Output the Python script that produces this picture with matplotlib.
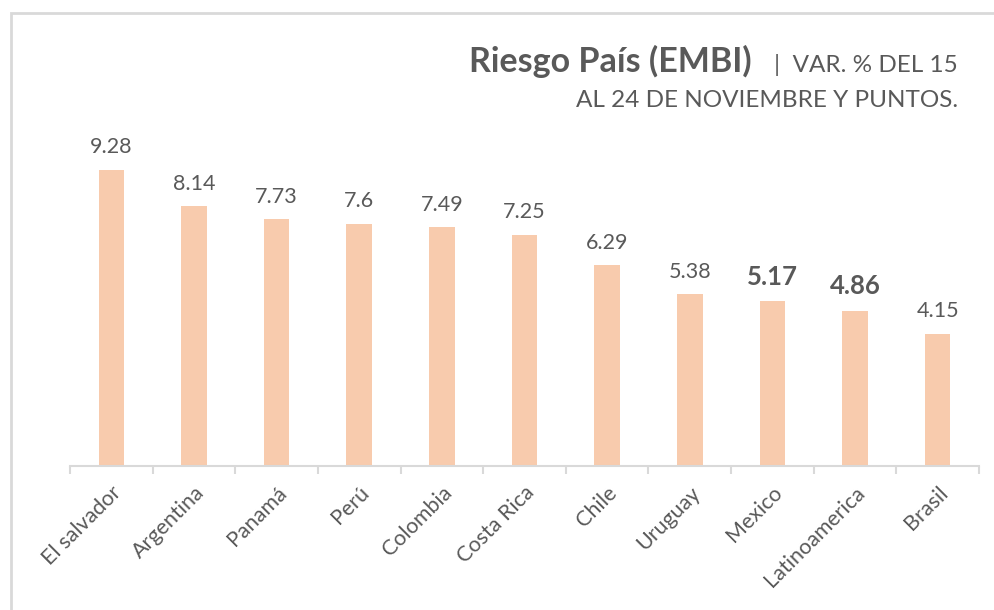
import matplotlib.pyplot as plt
from matplotlib.patches import Rectangle

# ------------------------------------------------------------
# Data
# ------------------------------------------------------------
countries = ["El salvador", "Argentina", "Panamá", "Perú", "Colombia",
             "Costa Rica", "Chile", "Uruguay", "Mexico", "Latinoamerica", "Brasil"]
values = [9.28, 8.14, 7.73, 7.6, 7.49, 7.25, 6.29, 5.38, 5.17, 4.86, 4.15]
value_labels = ["9.28", "8.14", "7.73", "7.6", "7.49", "7.25", "6.29", "5.38", "5.17", "4.86", "4.15"]
highlight = ["Mexico", "Latinoamerica"]

text_color = "#595959"
bar_color = "#F8CBAD"
line_color = "#D9D9D9"

plt.rcParams["font.family"] = ["Lato", "DejaVu Sans"]

# ------------------------------------------------------------
# Plot
# ------------------------------------------------------------
fig = plt.figure(figsize=(9.94, 6.10), dpi=100)
ax = fig.add_axes([70 / 994, 144 / 610, 909 / 994, 366 / 610])

x = list(range(len(countries)))
ax.bar(x, values, width=0.31, color=bar_color)
ax.set_xlim(-0.5, len(countries) - 0.5)
ax.set_ylim(0, 366 / 31.9)

for xi, v, lab, name in zip(x, values, value_labels, countries):
    if name in highlight:
        ax.annotate(lab, (xi, v), xytext=(0, 9), textcoords="offset points",
                    ha="center", va="bottom", fontsize=18.5, fontweight="bold", color=text_color)
    else:
        ax.annotate(lab, (xi, v), xytext=(0, 9), textcoords="offset points",
                    ha="center", va="bottom", fontsize=15.5, color=text_color)

for s in ["top", "right", "left"]:
    ax.spines[s].set_visible(False)
ax.spines["bottom"].set_color(line_color)
ax.spines["bottom"].set_linewidth(1.5)
ax.set_yticks([])

# ticks between categories
ax.set_xticks([i - 0.5 for i in range(len(countries) + 1)], minor=True)
ax.tick_params(axis="x", which="minor", length=6, width=1.5, color=line_color)
ax.set_xticks(x)
ax.set_xticklabels(countries, rotation=45, ha="right", rotation_mode="anchor",
                   fontsize=15.5, color=text_color)
ax.tick_params(axis="x", which="major", length=0, pad=12)

# ------------------------------------------------------------
# Title
# ------------------------------------------------------------
fig.text(752 / 994, 1 - 72 / 610, "Riesgo País (EMBI)", ha="right", va="baseline",
         fontsize=24.5, fontweight="bold", color=text_color)
fig.text(958 / 994, 1 - 72 / 610, "|  VAR. % DEL 15", ha="right", va="baseline",
         fontsize=17.5, color=text_color)
fig.text(958 / 994, 1 - 107 / 610, "AL 24 DE NOVIEMBRE Y PUNTOS.", ha="right", va="baseline",
         fontsize=17.5, color=text_color)

# chart frame
fig.patches.append(Rectangle((11 / 994, -0.1), 1.1, 1 - 13 / 610 + 0.1,
                             transform=fig.transFigure, fill=False,
                             edgecolor=line_color, linewidth=2))

fig.savefig("out.png", dpi=100)
